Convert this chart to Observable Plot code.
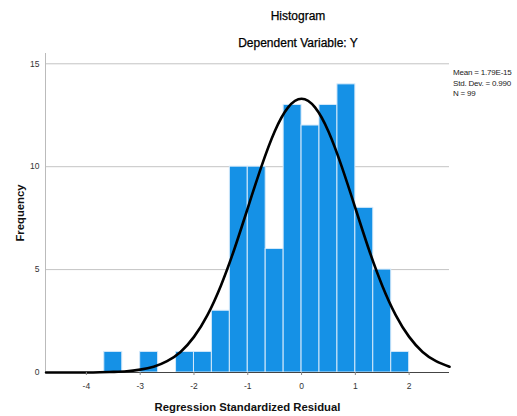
<!DOCTYPE html>
<html>
<head>
<meta charset="utf-8">
<script src="https://cdn.jsdelivr.net/npm/d3@7"></script>
<script src="https://cdn.jsdelivr.net/npm/@observablehq/plot@0.6"></script>
<style>
  body { margin: 0; background: #fff; font-family: "Liberation Sans", Arial, sans-serif; }
  #wrap { position: relative; width: 517px; height: 416px; }
  .ttl { position: absolute; left: 0; width: 596px; text-align: center; font-size: 12px; color: #000; font-weight: normal; white-space: nowrap; -webkit-text-stroke: 0.25px #000; }
  #stats { position: absolute; left: 453px; top: 68px; font-size: 8px; line-height: 10.5px; color: #222; white-space: nowrap; letter-spacing: -0.2px; }
  #chart { position: absolute; left: 0; top: 0; }
  g[aria-label="x-axis label"] text, g[aria-label="y-axis label"] text { font-weight: bold; font-size: 11.3px; fill: #111; }
</style>
</head>
<body>
<div id="wrap">
  <div id="chart"></div>
  <div class="ttl" style="top:9px">Histogram</div>
  <div class="ttl" style="top:36px">Dependent Variable: Y</div>
  <div id="stats">Mean = 1.79E-15<br>Std. Dev. = 0.990<br>N = 99</div>
</div>
<script>
// Histogram bins (bin edges) and counts
const binStart = [-3.667, -3.333, -3.0, -2.667, -2.333, -2.0, -1.667, -1.333, -1.0, -0.667, -0.333, 0.0, 0.333, 0.667, 1.0, 1.333, 1.667];
const binEnd   = [-3.333, -3.0, -2.667, -2.333, -2.0, -1.667, -1.333, -1.0, -0.667, -0.333, 0.0, 0.333, 0.667, 1.0, 1.333, 1.667, 2.0];
const counts   = [1, 0, 1, 0, 1, 1, 3, 10, 10, 6, 13, 12, 13, 14, 8, 5, 1];

// Normal curve points
const curveX = [-4.75, -4.5, -4.25, -4.0, -3.75, -3.5, -3.25, -3.0, -2.75, -2.5, -2.25, -2.0, -1.75, -1.5, -1.25, -1.0, -0.75, -0.5, -0.25, 0.0, 0.25, 0.5, 0.75, 1.0, 1.25, 1.5, 1.75, 2.0, 2.25, 2.5, 2.75];
const curveY = [0.0, 0.0, 0.0, 0.0, 0.01, 0.03, 0.06, 0.14, 0.28, 0.55, 1.0, 1.73, 2.79, 4.22, 5.99, 7.99, 9.98, 11.71, 12.88, 13.3, 12.88, 11.71, 9.98, 7.99, 5.99, 4.22, 2.79, 1.73, 1.0, 0.55, 0.28];

const xTicks = [-4, -3, -2, -1, 0, 1, 2];
const yTicks = [0, 5, 10, 15];

const bins = binStart.map((s, i) => ({x1: s, x2: binEnd[i], count: counts[i]})).filter(d => d.count > 0);
const curve = curveX.map((x, i) => ({x, y: curveY[i]}));

const chart = Plot.plot({
  width: 517,
  height: 416,
  marginTop: 53,
  marginBottom: 44,
  marginLeft: 45,
  marginRight: 68,
  style: {fontFamily: "'Liberation Sans', Arial, sans-serif", fontSize: "8.5px", color: "#333", background: "white"},
  x: {domain: [-4.76, 2.75], label: "Regression Standardized Residual"},
  y: {domain: [0, 15.5], label: "Frequency"},
  marks: [
    Plot.gridY(yTicks.filter(d => d > 0), {stroke: "#c4c4c4", strokeOpacity: 1}),
    Plot.frame({anchor: "left", stroke: "#bbbbbb"}),
    Plot.rectY(bins, {x1: "x1", x2: "x2", y: "count", fill: "#1591e6", stroke: "#d4e9fa", strokeWidth: 1, inset: 0}),
    Plot.ruleY([0], {stroke: "#444"}),
    Plot.line(curve, {x: "x", y: "y", curve: "natural", stroke: "#000", strokeWidth: 2.6}),
    Plot.axisX(xTicks, {tickSize: 3, tickPadding: 7, stroke: "#888", tickFormat: d => String(d), label: "Regression Standardized Residual", labelAnchor: "center", labelArrow: "none", labelOffset: 38}),
    Plot.axisY(yTicks, {tickSize: 0, tickPadding: 6, tickFormat: d => String(d), label: "Frequency", labelAnchor: "center", labelArrow: "none", labelOffset: 30})
  ]
});
document.getElementById("chart").appendChild(chart);
</script>
</body>
</html>
